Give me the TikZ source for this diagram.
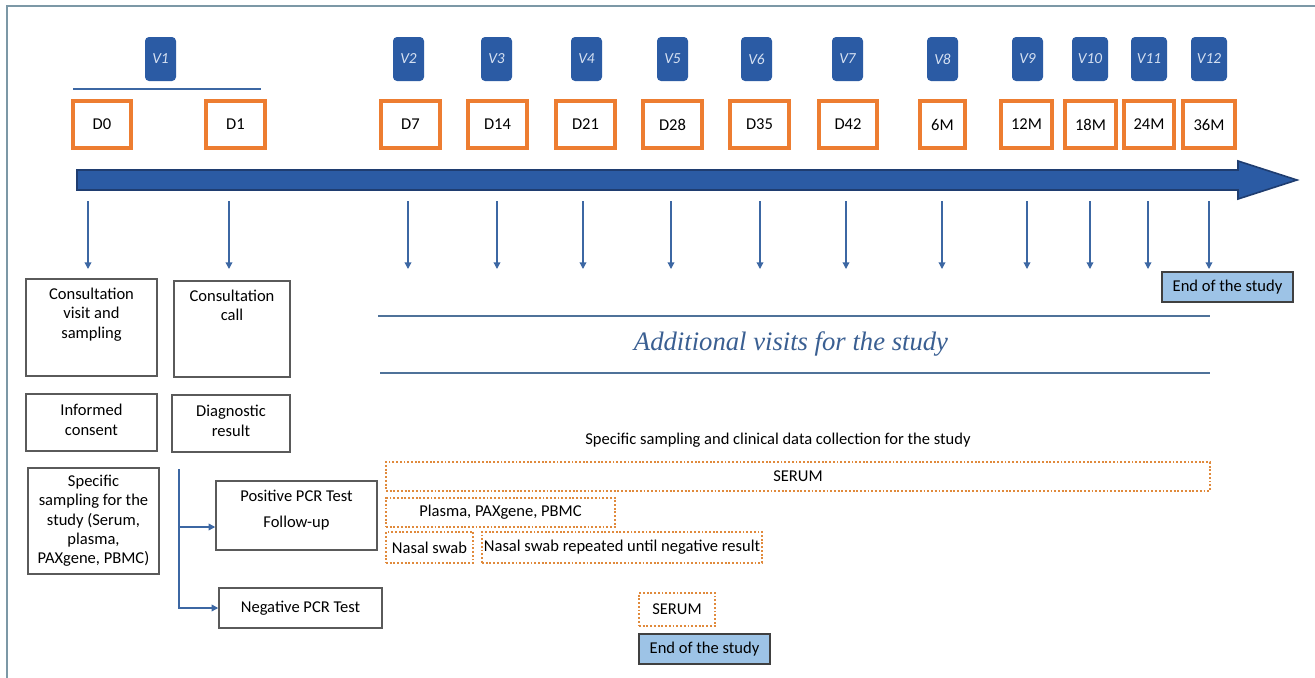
\documentclass[tikz,border=0pt]{standalone}
\usepackage{fontspec}
\setmainfont{Carlito}
\newfontfamily\titlefont{Liberation Serif}
\usetikzlibrary{arrows.meta}

\definecolor{vblue}{HTML}{2B5BA4}
\definecolor{vtext}{HTML}{D6E1F2}
\definecolor{dorange}{HTML}{ED7D31}
\definecolor{abord}{HTML}{1F3D70}
\definecolor{lnblue}{HTML}{3C67A3}
\definecolor{endfill}{HTML}{9DC3E6}
\definecolor{framec}{HTML}{7C98A6}
\definecolor{ttl}{HTML}{3A5F92}
\definecolor{dotor}{HTML}{E08A3C}
\definecolor{boxgray}{HTML}{5A5A5A}
\definecolor{boxdark}{HTML}{404040}
\definecolor{hline}{HTML}{4F7299}

\begin{document}
\begin{tikzpicture}[x=0.75pt,y=-0.75pt,
  pbox/.style n args={4}{minimum width={(#3-#1)*0.75pt}, minimum height={(#4-#2)*0.75pt}, at={({(#1+#3)/2},{(#2+#4)/2})}},
  vbox/.style={rectangle, rounded corners=3pt, fill=vblue, text=vtext, font=\itshape\fontsize{11.5}{13}\selectfont, inner sep=0pt},
  dbox/.style={rectangle, draw=dorange, line width=2.4pt, fill=white, font=\fontsize{12.4}{14}\selectfont, inner sep=0pt},
  gbox/.style={rectangle, draw=boxgray, line width=1.1pt, inner sep=0pt},
  obox/.style={rectangle, draw=dotor, line width=1.4pt, dash pattern=on 1.4pt off 1.4pt, inner sep=0pt, font=\fontsize{12.4}{14}\selectfont},
  ebox/.style={rectangle, draw=boxdark, fill=endfill, line width=1.1pt, inner sep=0pt, font=\fontsize{12.4}{14}\selectfont},
  txt/.style={font=\fontsize{12.4}{14.5}\selectfont, align=center, inner sep=0pt},
  darrow/.style={draw=lnblue, line width=1pt, -{Triangle[length=5pt,width=5pt]}},
]
\useasboundingbox (0,0) rectangle (1315,678);
\fill[white] (0,0) rectangle (1315,678);

% frame
\draw[framec, line width=1.5pt] (7,678) -- (7,6) -- (1315,6);

% V boxes
\foreach \n/\l/\r in {1/145/176, 2/393/424, 3/481/512, 4/571/602, 5/657/688, 6/741/772, 7/832/863, 8/927/958, 9/1012/1043, 10/1072/1108, 11/1131/1167, 12/1191/1227}
  {\node[vbox, pbox={\l}{37}{\r}{81}] (v\n) {V\n};}

% V1 bracket line
\draw[lnblue, line width=1pt] (73,89) -- (261,89);

% D boxes
\foreach \nm/\t/\l/\r in {d0/D0/73/131, d1/D1/206/265, d7/D7/381/440, d14/D14/468/527, d21/D21/556/615, d28/D28/643/702, d35/D35/730/789, d42/D42/819/877, m6/6M/920/965, m12/12M/1001/1052, m18/18M/1065/1116, m24/24M/1124/1174, m36/36M/1183/1235}
  {\node[dbox, pbox={\l}{101}{\r}{148}] (\nm) {\t};}

% timeline arrow
\draw[abord, line width=1.2pt, fill=vblue] (77,170) -- (1238,170) -- (1238,161) -- (1297,180) -- (1238,199) -- (1238,190) -- (77,190) -- cycle;

% down arrows
\foreach \i/\x in {0/88, 1/229, 2/408, 3/497, 4/583, 5/671, 6/760, 7/846, 8/942, 9/1027, 10/1090, 11/1148, 12/1209}
  {\coordinate (as\i) at (\x,201); \coordinate (ae\i) at (\x,269); \draw[darrow] (as\i) -- (ae\i);}

% left column
\node[gbox, pbox={26}{279}{157}{376}] (cvs) {};
\node[txt, anchor=north] at ([yshift=-7pt]cvs.north) {Consultation\\visit and\\sampling};
\node[gbox, pbox={174}{281}{290}{377}] (cc) {};
\node[txt, anchor=north] at ([yshift=-7pt]cc.north) {Consultation\\call};
\node[gbox, pbox={26}{394}{157}{451}] (ic) {};
\node[txt] at ([yshift=2pt]ic.center) {Informed\\consent};
\node[gbox, pbox={172}{395}{290}{452}] (dr) {};
\node[txt] at ([yshift=2pt]dr.center) {Diagnostic\\result};
\node[gbox, txt, pbox={28}{468}{159}{574}] (ss) {Specific\\sampling for the\\study (Serum,\\plasma,\\PAXgene, PBMC)};
\node[gbox, pbox={216}{481}{377}{550}] (pos) {};
\node[txt] at ([yshift=4pt]pos.center) {Positive PCR Test\\[5pt]Follow-up};
\node[gbox, txt, pbox={219}{588}{382}{628}] (neg) {Negative PCR Test};

% branch
\coordinate (bt) at (179,469);
\coordinate (bj) at (179,527);
\draw[lnblue, line width=1pt] (bt) -- (bj);
\draw[darrow] (bj) -- (bj -| pos.west);
\draw[darrow] (bj) |- (neg.west);

% end of the study (top)
\node[ebox, pbox={1162}{272}{1293}{302}] (endtop) {End of the study};

% title lines
\draw[hline, line width=1.2pt] (378,316) -- (1210,316);
\draw[hline, line width=1.2pt] (380,373) -- (1210,373);
\node[font=\titlefont\itshape\fontsize{20}{24}\selectfont, text=ttl, inner sep=0pt] (addv) at (791,344) {Additional visits for the study};

\node[txt] (spec) at (778,440) {Specific sampling and clinical data collection for the study};

% dotted sample boxes
\node[obox, pbox={386}{462}{1210}{491}] (serum) {SERUM};
\node[obox, pbox={386}{498}{615}{527}] (plasma) {Plasma, PAXgene, PBMC};
\node[obox, pbox={386}{532}{473}{563}] (nasal) {Nasal swab};
\node[obox, pbox={482}{532}{762}{563}] (nasalrep) {Nasal swab repeated until negative result};
\node[obox, pbox={639}{593}{715}{626}] (serum2) {SERUM};

% end of the study (bottom)
\node[ebox, pbox={639}{634}{770}{664}] (endbot) {End of the study};
\end{tikzpicture}
\end{document}
